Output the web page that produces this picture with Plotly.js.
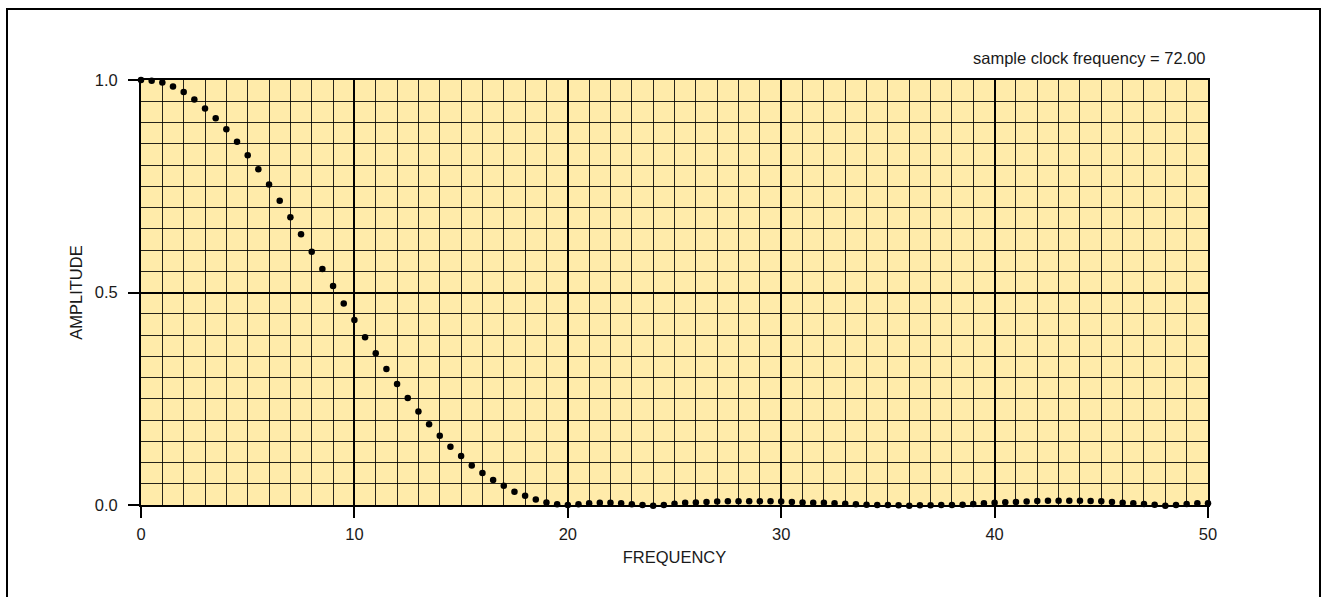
<!DOCTYPE html>
<html>
<head>
<meta charset="utf-8">
<script src="https://cdn.plot.ly/plotly-3.0.1.min.js"></script>
<style>
html,body{margin:0;padding:0;background:#fff;}
#chart{width:1322px;height:597px;}
</style>
</head>
<body>
<div id="chart"></div>
<script>
// Frequency axis (step 0.5 from 0 to 50)
const frequency = [
  0, 0.5, 1, 1.5, 2, 2.5, 3, 3.5, 4, 4.5,
  5, 5.5, 6, 6.5, 7, 7.5, 8, 8.5, 9, 9.5,
  10, 10.5, 11, 11.5, 12, 12.5, 13, 13.5, 14, 14.5,
  15, 15.5, 16, 16.5, 17, 17.5, 18, 18.5, 19, 19.5,
  20, 20.5, 21, 21.5, 22, 22.5, 23, 23.5, 24, 24.5,
  25, 25.5, 26, 26.5, 27, 27.5, 28, 28.5, 29, 29.5,
  30, 30.5, 31, 31.5, 32, 32.5, 33, 33.5, 34, 34.5,
  35, 35.5, 36, 36.5, 37, 37.5, 38, 38.5, 39, 39.5,
  40, 40.5, 41, 41.5, 42, 42.5, 43, 43.5, 44, 44.5,
  45, 45.5, 46, 46.5, 47, 47.5, 48, 48.5, 49, 49.5,
  50
];
const amplitude = [
  1.000, 0.998, 0.994, 0.985, 0.972, 0.954, 0.933, 0.910, 0.884, 0.855,
  0.823, 0.790, 0.754, 0.716, 0.677, 0.637, 0.596, 0.555, 0.515, 0.474,
  0.435, 0.395, 0.357, 0.320, 0.285, 0.252, 0.220, 0.190, 0.163, 0.137,
  0.115, 0.093, 0.075, 0.059, 0.045, 0.031, 0.022, 0.013, 0.006, 0.002,
  0.000, 0.002, 0.004, 0.005, 0.005, 0.004, 0.002, 0.000, -0.002, 0.000,
  0.003, 0.005, 0.006, 0.007, 0.008, 0.009, 0.009, 0.009, 0.009, 0.009,
  0.008, 0.007, 0.006, 0.0055, 0.005, 0.004, 0.003, 0.0016, 0.0008, 0.000,
  0.000, -0.0008, -0.0016, -0.0008, -0.0008, 0.000, 0.000, 0.0008, 0.0024, 0.004,
  0.0055, 0.0063, 0.007, 0.008, 0.0094, 0.010, 0.010, 0.010, 0.010, 0.0094,
  0.0086, 0.007, 0.0055, 0.004, 0.0024, 0.0008, -0.0016, 0.000, 0.0024, 0.004,
  0.004
];
const xTickVals = [0, 10, 20, 30, 40, 50];
const xTickText = ['0', '10', '20', '30', '40', '50'];
const yTickVals = [0, 0.5, 1.0];
const yTickText = ['0.0', '0.5', '1.0'];
const noteText = 'sample clock frequency = 72.00';

const FONT = 'Liberation Sans, Arial, sans-serif';
const FS = 16.5;
const TXT = '#1a1a1a';

// Pixel geometry of the plot frame
const PLOT_TOP = 80, PLOT_BOTTOM = 505, PLOT_LEFT = 141, PLOT_RIGHT = 1208;
const EXTRA = 4;                       // extra px below so tiny negative points stay visible
const H = PLOT_BOTTOM + EXTRA - PLOT_TOP;
const W = PLOT_RIGHT - PLOT_LEFT;
const d0 = EXTRA / H;
const r0 = -EXTRA / (PLOT_BOTTOM - PLOT_TOP);

const trace = {
  x: frequency,
  y: amplitude,
  xaxis: 'x2',
  yaxis: 'y2',
  type: 'scatter',
  mode: 'markers',
  marker: {color: '#000', size: 6.5},
  cliponaxis: false,
  hoverinfo: 'x+y'
};

const axisCommon = {
  showline: true,
  mirror: true,
  linecolor: '#000',
  linewidth: 2,
  showgrid: true,
  gridcolor: '#000',
  gridwidth: 2,
  zeroline: false,
  ticks: 'outside',
  ticklen: 11,
  tickwidth: 2,
  tickcolor: '#000',
  layer: 'below traces',
  tickfont: {family: FONT, size: FS, color: TXT}
};

const py = p => (PLOT_BOTTOM + EXTRA - p) / H;
const px = p => (p - PLOT_LEFT) / W;

const layout = {
  width: 1322,
  height: 597,
  margin: {l: PLOT_LEFT, r: 1322 - PLOT_RIGHT, t: PLOT_TOP, b: 597 - PLOT_BOTTOM - EXTRA},
  paper_bgcolor: '#fff',
  plot_bgcolor: 'rgba(0,0,0,0)',
  showlegend: false,
  font: {family: FONT, size: FS, color: TXT},
  xaxis: Object.assign({}, axisCommon, {
    range: [0, 50],
    domain: [0, 1],
    anchor: 'y',
    tickmode: 'array',
    tickvals: xTickVals,
    ticktext: xTickText,
    ticklabelstandoff: 2,
    minor: {dtick: 1, showgrid: true, gridcolor: 'rgba(0,0,0,0.85)', gridwidth: 1, ticks: ''},
    title: {text: 'FREQUENCY', font: {family: FONT, size: FS, color: TXT}, standoff: 10}
  }),
  yaxis: Object.assign({}, axisCommon, {
    range: [0, 1],
    domain: [d0, 1],
    anchor: 'x',
    tickmode: 'array',
    tickvals: yTickVals,
    ticktext: yTickText,
    ticklabelstandoff: 7,
    minor: {dtick: 0.05, showgrid: true, gridcolor: 'rgba(0,0,0,0.85)', gridwidth: 1, ticks: ''},
    title: {text: 'AMPLITUDE', font: {family: FONT, size: FS, color: TXT}, standoff: 8}
  }),
  xaxis2: {range: [0, 50], domain: [0, 1], anchor: 'y2', visible: false, fixedrange: true},
  yaxis2: {range: [r0, 1], domain: [0, 1], anchor: 'x2', visible: false, fixedrange: true},
  annotations: [{
    text: noteText,
    xref: 'paper', yref: 'paper',
    x: 1, y: py(58),
    xanchor: 'right', yanchor: 'middle',
    showarrow: false,
    font: {family: FONT, size: FS, color: TXT}
  }],
  shapes: [
    {
      type: 'rect',
      xref: 'x', yref: 'y',
      x0: 0, x1: 50, y0: 0, y1: 1,
      line: {width: 0},
      fillcolor: '#FFEBAA',
      layer: 'below'
    },
    {
      type: 'rect',
      xref: 'paper', yref: 'paper',
      x0: px(7), x1: px(1320),
      y0: py(605), y1: py(9),
      line: {color: '#000', width: 2},
      fillcolor: 'rgba(0,0,0,0)',
      layer: 'above'
    }
  ]
};

Plotly.newPlot('chart', [trace], layout, {displayModeBar: false, staticPlot: true});
</script>
</body>
</html>
